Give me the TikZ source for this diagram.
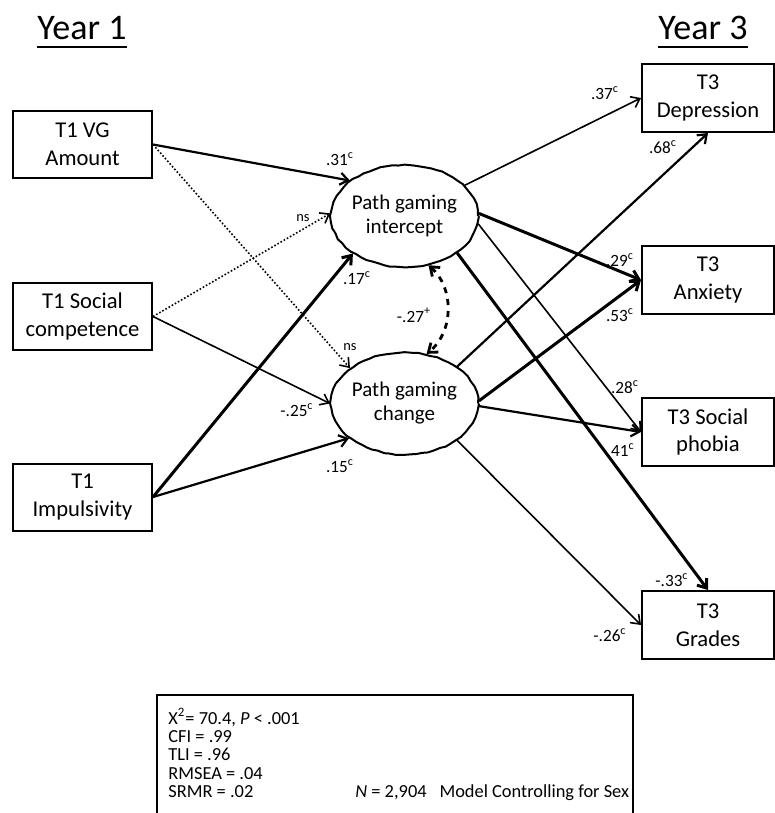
\documentclass[tikz,border=0pt]{standalone}
\usepackage{fontspec}
\setmainfont{Carlito}
\usetikzlibrary{arrows.meta,shapes.geometric,decorations.pathmorphing}
\newcommand\bxfont{\fontsize{11.3}{13.8}\selectfont}
\newcommand\lblfont{\fontsize{8.6}{9}\selectfont}
\newcommand\statfont{\fontsize{9.2}{9.1}\selectfont}

\begin{document}
\begin{tikzpicture}[x=0.5pt,y=-0.5pt,
   >={Straight Barb[length=4pt,width=6pt]},
   obs/.style={draw,line width=1pt,minimum width=69.5pt,minimum height=33.5pt,inner sep=0,align=center,font=\bxfont},
   outc/.style={draw,line width=1pt,minimum width=66pt,minimum height=34pt,inner sep=0,align=center,font=\bxfont},
   latent/.style={ellipse,draw,line width=1pt,minimum width=73.5pt,minimum height=51pt,inner sep=0,
      decorate,decoration={random steps,segment length=3pt,amplitude=0.3pt}},
   lattxt/.style={align=center,font=\fontsize{10.5}{12}\selectfont,inner sep=0},
   thinp/.style={line width=0.8pt},
   medp/.style={line width=1.1pt},
   thickp/.style={line width=1.5pt},
   nsp/.style={line width=0.8pt,densely dotted},
   corr/.style={line width=1.4pt,dashed},
   lbl/.style={font=\lblfont,inner sep=0},
   nslbl/.style={font=\fontsize{7.2}{8}\selectfont,inner sep=0},
   yr/.style={font=\fontsize{18}{20}\selectfont,inner sep=0},
   stat/.style={font=\statfont,align=left,inner sep=0}]

   \useasboundingbox (0,0) rectangle (775,813);
   \pgfmathsetseed{7}

   \node[yr,anchor=base] (y1) at (82,40) {Year 1};
   \node[yr,anchor=base] (y3) at (703,40) {Year 3};
   \draw[line width=1pt] ([yshift=-3.5pt]y1.base west) -- ([yshift=-3.5pt]y1.base east);
   \draw[line width=1pt] ([yshift=-3.5pt]y3.base west) -- ([yshift=-3.5pt]y3.base east);

   \node[obs] (vg) at (82.5,144.5) {T1 VG\\Amount};
   \node[obs] (soc) at (82.5,316.5) {T1 Social\\competence};
   \node[obs] (imp) at (82.5,497) {T1\\Impulsivity};

   \node[latent,label={[lattxt]center:Path gaming\\intercept}] (icpt) at (404.5,216) {};
   \node[latent,label={[lattxt]center:Path gaming\\change}] (chg) at (404.5,403.5) {};

   \node[outc] (dep) at (708,98) {T3\\Depression};
   \node[outc] (anx) at (708,280) {T3\\Anxiety};
   \node[outc] (soph) at (708,432) {T3 Social\\phobia};
   \node[outc] (grd) at (708,625) {T3\\Grades};

   \draw[medp,->] (vg.east) -- (icpt.147);
   \draw[nsp,->] (vg.east) -- (chg.147);
   \draw[nsp,->] (soc.east) -- (icpt.178);
   \draw[thinp,->] (soc.east) -- (chg.180);
   \draw[thickp,->] (imp.east) -- (icpt.216);
   \draw[medp,->] (imp.east) -- (chg.212);
   \draw[corr,<->] (icpt.296) to[bend left=50] (chg.66);

   \draw[thinp,->] (icpt.27) -- (dep.west);
   \draw[thickp,->] (icpt.2) -- (anx.west);
   \draw[thinp,->] (icpt.-6) -- (soph.west);
   \draw[thickp,->] (icpt.325) -- (grd.north);
   \draw[medp,->] (chg.35) -- (dep.south);
   \draw[thickp,->] (chg.2) -- (anx.west);
   \draw[medp,->] (chg.-2) -- (soph.west);
   \draw[thinp,->] (chg.325) -- (grd.west);

   \node[lbl] (b31) at (340,159) {.31\textsuperscript{c}};
   \node[nslbl] (ns1) at (303,218) {ns};
   \node[lbl] (b17) at (357,278) {.17\textsuperscript{c}};
   \node[nslbl] (ns2) at (350,347) {ns};
   \node[lbl] (b25) at (297,410) {-.25\textsuperscript{c}};
   \node[lbl] (b15) at (340,466) {.15\textsuperscript{c}};
   \node[lbl] (r27) at (414,315) {-.27\textsuperscript{+}};
   \node[lbl] (b37) at (605,93) {.37\textsuperscript{c}};
   \node[lbl] (b68) at (663,147) {.68\textsuperscript{c}};
   \node[lbl] (b29) at (620,260) {.29\textsuperscript{c}};
   \node[lbl] (b53) at (620,315) {.53\textsuperscript{c}};
   \node[lbl] (b28) at (625,387) {.28\textsuperscript{c}};
   \node[lbl] (b41) at (623,450) {41\textsuperscript{c}};
   \node[lbl] (b33) at (672,580) {-.33\textsuperscript{c}};
   \node[lbl] (b26) at (610,635) {-.26\textsuperscript{c}};

   \draw[line width=0.8pt] (157,816) |- (633,695) -- (633,816);
   \node[stat,anchor=north west] (fit) at (168,708) {X\textsuperscript{2}= 70.4, \textit{P} < .001\\CFI = .99\\TLI = .96\\RMSEA = .04\\SRMR = .02};
   \coordinate (nx) at (355,0);
   \node[stat,anchor=base west] (nsize) at (fit.south -| nx) {\textit{N} = 2,904\hspace{0.7em}Model Controlling for Sex};

\end{tikzpicture}
\end{document}
